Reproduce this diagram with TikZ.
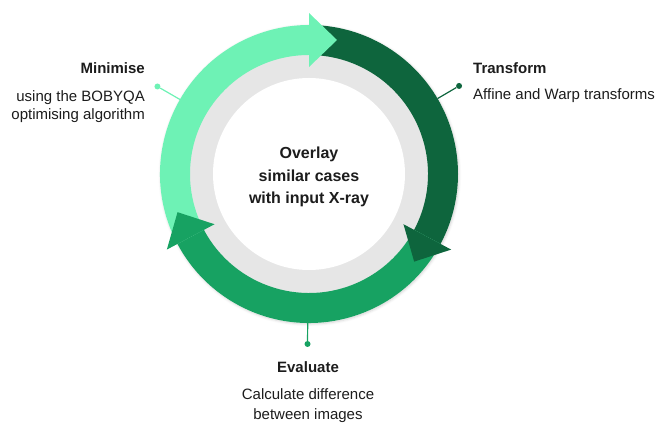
\documentclass[tikz,border=0pt]{standalone}
\usepackage{fontspec}
\setmainfont{Liberation Sans}
\usetikzlibrary{calc,shadows.blur}

\definecolor{ringlight}{HTML}{6EF2B5}
\definecolor{ringdark}{HTML}{0E653D}
\definecolor{ringmid}{HTML}{17A262}
\definecolor{discgray}{HTML}{E6E6E6}
\definecolor{inktext}{HTML}{1C1C1C}

\tikzset{
  softshadow/.style={blur shadow={shadow xshift=0.8pt, shadow yshift=-1pt,
      shadow blur radius=2.5pt, shadow opacity=18}},
  pin/.style={circle, fill=#1, inner sep=0pt, minimum size=6pt},
  pinline/.style={draw=#1, line width=1.2pt},
  title/.style={font=\fontsize{15}{18}\selectfont\bfseries, text=inktext, inner sep=0pt},
  desc/.style={font=\fontsize{15}{18}\selectfont, text=inktext, inner sep=0pt},
  hub/.style={font=\fontsize{16}{19}\selectfont\bfseries, text=inktext, inner sep=0pt, anchor=base},
}

% one coloured section of the ring, running clockwise from #2 to #3
\newcommand\ringsection[3]{%
  \fill[#1] ($(c)+(#2:149)$) arc[start angle=#2, end angle=#3, radius=149]
    -- ($(c)+(#3:119)$) arc[start angle=#3, end angle=#2, radius=119] -- cycle;}
% arrow head whose base sits at angle #2 and points clockwise
\newcommand\ringhead[2]{%
  \fill[#1] ($(c)+(#2:107)$) -- ($(c)+(#2:161)$)
    -- ($(c)+(#2:134)+({#2-90}:28)$) -- cycle;}

\begin{document}
\begin{tikzpicture}[x=1pt, y=1pt]
\useasboundingbox (0,0) rectangle (659,425);
\coordinate (c) at (309,251);

% backing disc with its shadow, grey band and white centre
\fill[white, softshadow] (c) circle (149);
\fill[discgray] (c) circle (120);
\fill[white] (c) circle (96);

% ring sections
\ringsection{ringlight}{208}{90}
\ringsection{ringdark}{90}{-28}
\ringsection{ringmid}{-28}{-152}

% arrow heads on top
\ringhead{ringlight}{90}
\ringhead{ringdark}{-28}
\ringhead{ringmid}{208}

% centre text
\node[hub] (hubA) at (309,266) {Overlay};
\node[hub] (hubB) at (309,243.5) {similar cases};
\node[hub] (hubC) at (309,221) {with input X-ray};

% leader lines and pins
\coordinate (minRing) at ($(c)+(150:149)$);
\node[pin=ringlight] (minPin) at ($(c)+(150:175)$) {};
\draw[pinline=ringlight] (minRing) -- (minPin);

\coordinate (trRing) at ($(c)+(30.4:149)$);
\node[pin=ringdark] (trPin) at ($(c)+(30.4:174)$) {};
\draw[pinline=ringdark] (trRing) -- (trPin);

\coordinate (evRing) at ($(c)+(-90.5:149)$);
\node[pin=ringmid] (evPin) at ($(c)+(-90.5:170)$) {};
\draw[pinline=ringmid] (evRing) -- (evPin);

% step labels
\node[title, anchor=base east] (minTitle) at (145,351) {Minimise};
\node[desc, anchor=base east] (minLineA) at (145,323.5) {using the BOBYQA};
\node[desc, anchor=base east] (minLineB) at (145,305) {optimising algorithm};

\node[title, anchor=base west] (trTitle) at (473,351) {Transform};
\node[desc, anchor=base west] (trLine) at (473,325) {Affine and Warp transforms};

\node[title, anchor=base] (evTitle) at (308,52) {Evaluate};
\node[desc, anchor=base] (evLineA) at (308,25) {Calculate difference};
\node[desc, anchor=base] (evLineB) at (308,5) {between images};
\end{tikzpicture}
\end{document}
